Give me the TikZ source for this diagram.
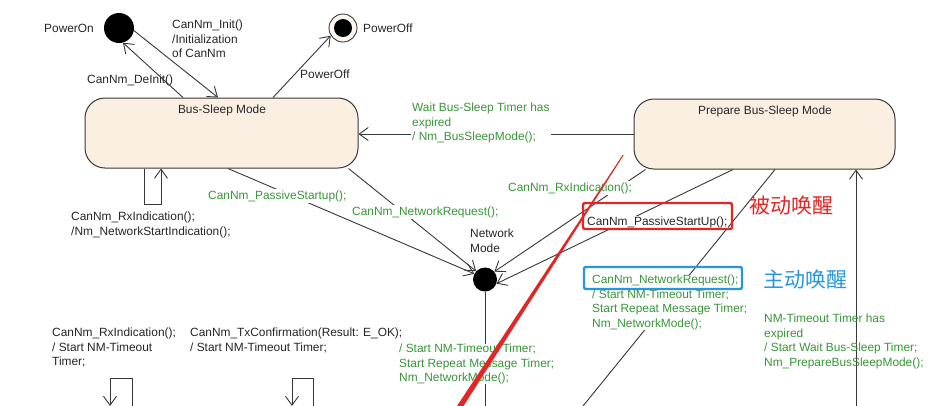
\documentclass[tikz,border=0pt]{standalone}
\usepackage{fontspec}
\setmainfont{Liberation Sans}
\newfontfamily\cjk{Noto Sans CJK SC}
\usetikzlibrary{arrows.meta}
\pgfdeclarelayer{bg}
\pgfdeclarelayer{top}
\pgfsetlayers{bg,main,top}
\definecolor{grn}{RGB}{56,150,56}
\definecolor{beige}{RGB}{251,239,226}
\definecolor{edgec}{RGB}{55,55,55}
\definecolor{redmark}{RGB}{226,38,38}
\definecolor{bluemark}{RGB}{38,150,222}
\begin{document}
\begin{tikzpicture}[x=1pt,y=-1pt,
  every node/.style={font=\fontsize{11.9}{14.7}\selectfont},
  lbl/.style={inner sep=0pt, align=left, text=black!85},
  glbl/.style={inner sep=0pt, align=left, text=grn},
  wbg/.style={fill=white, inner sep=1pt},
  state/.style={draw=edgec, line width=1pt, fill=beige, rounded corners=20pt, inner sep=0pt},
  conn/.style={draw=edgec, line width=0.9pt},
  arr/.style={conn, -{Straight Barb[length=9pt,width=13pt,line width=0.9pt]}},
  markbox/.style={line width=2.4pt, rounded corners=2pt, inner sep=0pt}]
\useasboundingbox (0,0) rectangle (952,405);

% states
\node[state, minimum width=273pt, minimum height=70pt] (bs) at (221.5,133) {};
\node[lbl] (bst) at (222,110) {Bus-Sleep Mode};
\node[state, minimum width=261pt, minimum height=70pt] (prep) at (764.5,134) {};
\node[lbl] (prept) at (765,111) {Prepare Bus-Sleep Mode};

\node[circle, fill=black, minimum size=30pt, inner sep=0pt] (pon) at (119,28) {};
\node[lbl, anchor=west] (ponl) at (44,28) {PowerOn};
\node[circle, draw=edgec, fill=beige!50, line width=0.9pt, minimum size=28pt, inner sep=0pt] (poff) at (343,28) {};
\node[circle, fill=black, minimum size=18pt, inner sep=0pt] (poffin) at (343,28) {};
\node[lbl, anchor=west] (poffl) at (363,28) {PowerOff};

\node[circle, fill=black, minimum size=24pt, inner sep=0pt] (nm) at (485,279.5) {};
\node[lbl, anchor=north west] (nml) at (470,228.5) {Network\\Mode};

% free ends
\coordinate (prepout) at (583,406);
\coordinate (nmout) at (485,410);
\coordinate (upin) at (856,410);
\coordinate (la1) at (132,410);
\coordinate (la2) at (110,406);
\coordinate (lb1) at (313,410);
\coordinate (lb2) at (292,406);

\begin{pgfonlayer}{bg}
\fill[white] (0,0) rectangle (952,405);
\draw[arr] (pon.-10) -- ([xshift=-3.5pt]bs.north);
\draw[arr] ([xshift=-38.5pt]bs.north) -- (pon.-75);
\draw[arr] ([xshift=51.5pt]bs.north) -- (poff.-148);
\draw[arr] ([xshift=-77.5pt]bs.south) -- ++(0,36) -- ++(17,0) -- ([xshift=-60.5pt]bs.south);
\draw[arr] (prep.west) -- (bs.east |- prep.west);
\draw[arr] ([xshift=6.5pt]bs.south) -- (nm.152);
\draw[arr] ([xshift=-10pt]bs.south east) -- (nm.137);
\draw[arr] ([xshift=12pt]prep.south west) -- (nm.40);
\draw[arr] ([xshift=-31.5pt]prep.south) -- (nm.-20);
\draw[conn] ([xshift=10.5pt]prep.south) -- (prepout);
\draw[conn] (nm) -- (nmout);
\draw[arr] (upin) -- ([xshift=91.5pt]prep.south);
\draw[arr] (la1) -- ++(0,-32) -- ++(-22,0) -- (la2);
\draw[arr] (lb1) -- ++(0,-32) -- ++(-21,0) -- (lb2);
\end{pgfonlayer}

% labels
\node[lbl, anchor=north west] (linit) at (172,19.5) {CanNm\_Init()\\/Initialization\\of CanNm};
\node[lbl, anchor=west] (ldeinit) at (87,80) {CanNm\_DeInit()};
\node[lbl, anchor=west] (lpoff) at (300,74) {PowerOff};
\node[lbl, anchor=north west] (lloop) at (71,211.5) {CanNm\_RxIndication();\\/Nm\_NetworkStartIndication();};
\node[glbl, wbg, anchor=north west] (lwait) at (411,101.5) {Wait Bus-Sleep Timer has\\expired\\/ Nm\_BusSleepMode();};
\node[glbl, wbg, anchor=west] (lpass) at (207,196) {CanNm\_PassiveStartup();};
\node[glbl, wbg, anchor=west] (lreq) at (351,212) {CanNm\_NetworkRequest();};
\node[glbl, wbg, anchor=west] (lrx) at (507,188) {CanNm\_RxIndication();};
\node[lbl, fill=white, inner sep=0.5pt, anchor=west] (lpsu) at (586.5,222) {CanNm\_PassiveStartUp();};
\node[draw=redmark, markbox, minimum width=149pt, minimum height=26pt] (redbox) at (657.5,216) {};
\node[glbl, fill=white, anchor=north west] (lreq2) at (592,274.5) {CanNm\_NetworkRequest();\\/ Start NM-Timeout Timer;\\Start Repeat Message Timer;\\Nm\_NetworkMode();};
\node[draw=bluemark, markbox, minimum width=158pt, minimum height=22pt] (bluebox) at (663,278) {};
\node[inner sep=0pt, anchor=west, text=redmark, font=\cjk\fontsize{21}{24}\selectfont] (tpass) at (749,205) {被动唤醒};
\node[inner sep=0pt, anchor=west, text=bluemark, font=\cjk\fontsize{21}{24}\selectfont] (tact) at (763,279) {主动唤醒};
\node[glbl, anchor=north west] (ltimeout) at (764,313.5) {NM-Timeout Timer has\\expired\\/ Start Wait Bus-Sleep Timer;\\Nm\_PrepareBusSleepMode();};
\node[lbl, anchor=north west] (lrx2) at (52,327.5) {CanNm\_RxIndication();\\/ Start NM-Timeout\\Timer;};
\node[lbl, anchor=north west] (ltx) at (190,327.5) {CanNm\_TxConfirmation(Result: E\_OK);\\/ Start NM-Timeout Timer;};
\node[glbl, fill=white, anchor=north west] (lnm) at (399,343.5) {/ Start NM-Timeout Timer;\\Start Repeat Message Timer;\\Nm\_NetworkMode();};

\begin{pgfonlayer}{top}
\fill[redmark] (622.6,155) -- (623.8,155) -- (463.5,406) -- (457,406) -- cycle;
\end{pgfonlayer}
\end{tikzpicture}
\end{document}
